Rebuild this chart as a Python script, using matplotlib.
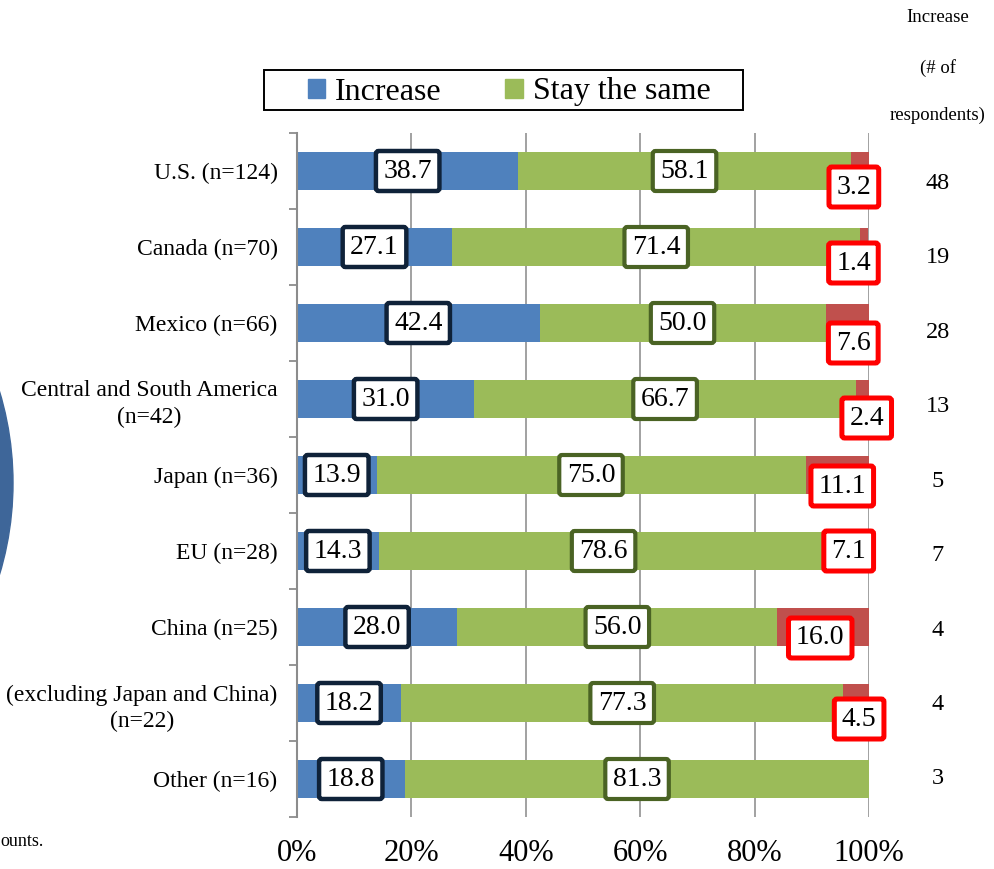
import matplotlib
matplotlib.use("Agg")
import numpy as np
from matplotlib import pyplot as plt
from matplotlib.patches import Patch, Ellipse, Rectangle
from matplotlib.ticker import FixedLocator
from matplotlib.transforms import blended_transform_factory

plt.rcParams["font.family"] = ["Liberation Serif", "DejaVu Serif"]

# Data (percent of respondents)
regions = ["U.S. (n=124)", "Canada (n=70)", "Mexico (n=66)",
           "Central and South America\n(n=42)", "Japan (n=36)", "EU (n=28)",
           "China (n=25)", "(excluding Japan and China)\n(n=22)", "Other (n=16)"]
increase = [38.7, 27.1, 42.4, 31.0, 13.9, 14.3, 28.0, 18.2, 18.8]
stay_same = [58.1, 71.4, 50.0, 66.7, 75.0, 78.6, 56.0, 77.3, 81.3]
decrease = [3.2, 1.4, 7.6, 2.4, 11.1, 7.1, 16.0, 4.5, 0.0]
n_increase = [48, 19, 28, 13, 5, 7, 4, 4, 3]
xtick_vals = [0, 20, 40, 60, 80, 100]

# label nudges for the red boxes (pixels: right, down)
red_nudge = [(-6, 16), (-11, 16), (6, 20), (4, 19), (5, 11), (0, 0), (-3, 11), (3, 16), (0, 0)]

c_blue, c_green, c_red = "#4f81bd", "#9bbb59", "#c0504d"

fig = plt.figure(figsize=(9.94, 8.69), dpi=100)
ax = fig.add_axes([297 / 994, 1 - 817 / 869, 572 / 994, 684 / 869])

y = np.arange(len(regions))
inc = np.array(increase)
same = np.array(stay_same)
dec = np.array(decrease)

ax.barh(y, inc, height=0.5, color=c_blue, zorder=2)
ax.barh(y, same, left=inc, height=0.5, color=c_green, zorder=2)
ax.barh(y, dec, left=inc + same, height=0.5, color=c_red, zorder=2)

box_kw = dict(boxstyle="round,pad=0.27,rounding_size=0.1", facecolor="white")
for i in range(len(regions)):
    ax.text(inc[i] / 2, y[i], f"{inc[i]:.1f}", ha="center", va="center", fontsize=20,
            zorder=4, bbox=dict(edgecolor="#0f2239", linewidth=3.2, **box_kw))
    ax.text(inc[i] + same[i] / 2, y[i], f"{same[i]:.1f}", ha="center", va="center",
            fontsize=20, zorder=4, bbox=dict(edgecolor="#4a6324", linewidth=3.0, **box_kw))
    if dec[i] > 0:
        dx, dy = red_nudge[i]
        ax.annotate(f"{dec[i]:.1f}", (inc[i] + same[i] + dec[i] / 2, y[i]),
                    xytext=(dx * 0.72, -dy * 0.72), textcoords="offset points",
                    ha="center", va="center", fontsize=20, zorder=5,
                    bbox=dict(edgecolor="#ff0000", linewidth=3.6, **box_kw))

# right-hand column: number of respondents answering "increase"
# (sits in its own table, rows slightly off the bars)
tr = blended_transform_factory(ax.transAxes, ax.transData)
col_rows = np.linspace(0.16, 8.0, len(n_increase))
for r, v in zip(col_rows, n_increase):
    ax.text(1.1206, r, str(v), transform=tr, ha="center", va="center", fontsize=17.5)
for py, s in [(18, "Increase"), (68, "(# of"), (115, "respondents)")]:
    fig.text(938 / 994, 1 - py / 869, s, ha="center", va="center", fontsize=13.5)

ax.set_xlim(0, 100)
ax.set_ylim(len(regions) - 0.5, -0.5)
ax.set_xticks(xtick_vals)
ax.set_xticklabels([f"{v}%" for v in xtick_vals], fontsize=22)
ax.set_yticks(y)
ax.set_yticklabels(regions, fontsize=17, multialignment="center", linespacing=1.35)
ax.yaxis.set_minor_locator(FixedLocator(np.arange(len(regions) + 1) - 0.5))
ax.tick_params(axis="y", which="major", length=0, pad=14)
ax.tick_params(axis="y", which="minor", length=6, width=1.3, color="#8c8c8c", direction="out")
ax.tick_params(axis="x", length=0, pad=16)
ax.xaxis.grid(True, color="#9a9a9a", linewidth=1.3, zorder=0)
ax.set_axisbelow(True)
for s in ["top", "right", "bottom"]:
    ax.spines[s].set_visible(False)
ax.spines["left"].set_color("#8c8c8c")
ax.spines["left"].set_linewidth(1.5)

# legend (frame drawn separately to get the wide, short box)
fig.legend([Patch(color=c_blue), Patch(color=c_green)], ["Increase", "Stay the same"],
           loc="center", bbox_to_anchor=(509 / 994, 1 - 92 / 869), ncol=2,
           fontsize=23, frameon=False, handlelength=0.55, handleheight=0.55,
           handletextpad=0.3, columnspacing=2.0, borderpad=0, borderaxespad=0)
fig.add_artist(Rectangle((264 / 994, 1 - 110 / 869), 479 / 994, 40 / 869, fill=False,
                         edgecolor="black", linewidth=1.4, transform=fig.transFigure))

# decorative shape and cut-off note at the left edge
fig.add_artist(Ellipse((-305 / 994, 1 - 483 / 869), 636 / 994, 636 / 869,
                       transform=fig.transFigure, color="#3e6699"))
fig.text(0, 1 - 842 / 869, "ounts.", ha="left", va="center", fontsize=13)

fig.savefig("out.png", dpi=100)
